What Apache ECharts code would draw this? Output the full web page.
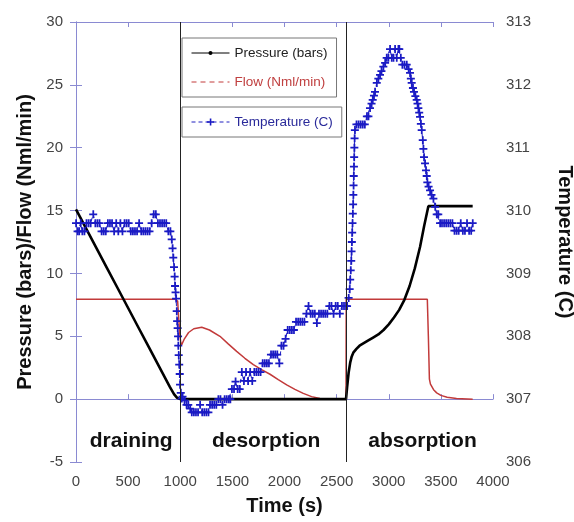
<!DOCTYPE html>
<html>
<head>
<meta charset="utf-8">
<script src="https://cdn.jsdelivr.net/npm/echarts@6/dist/echarts.min.js"></script>
<style>
html,body{margin:0;padding:0;background:#fff;}
#c{width:574px;height:522px;}
</style>
</head>
<body>
<div id="c"></div>
<script>
// ---- data ----
const pressureTime = [0,100,200,300,400,500,600,700,800,900,940,970,1000,2590,2600,2615,2630,2645,2660,2690,2720,2760,2800,2850,2900,2950,3000,3050,3100,3150,3200,3250,3300,3340,3380,3805];
const pressure     = [15.1,13.53,11.96,10.39,8.82,7.25,5.68,4.11,2.54,0.97,0.4,0.1,0,0,0.9,2.1,2.9,3.4,3.7,4.0,4.25,4.45,4.65,4.9,5.15,5.5,5.95,6.5,7.1,7.9,9.0,10.4,12.1,13.8,15.35,15.35];

const flowTime = [0,950,975,985,995,1005,1014,1040,1080,1130,1206,1280,1381,1460,1541,1620,1701,1780,1861,1940,2021,2100,2180,2260,2340,2420,2590,2592,3370,3380,3390,3400,3430,3460,3500,3560,3650,3805];
const flow     = [7.95,7.95,7.8,6.5,5.2,4.5,4.34,4.8,5.3,5.6,5.72,5.5,5.0,4.4,3.8,3.25,2.74,2.35,1.98,1.55,1.14,0.78,0.46,0.2,0.05,0,0,7.95,7.95,5.0,1.6,1.2,0.75,0.5,0.3,0.15,0.05,0];

const tempTime = [0,15,30,45,60,80,100,120,140,165,185,205,225,245,265,285,305,325,345,365,385,405,425,445,465,485,505,525,545,565,585,605,625,645,665,685,705,725,745,765,785,805,825,845,865,885,905,918,926,933,940,946,950,955,960,966,970,975,979,981,985,990,995,998,1005,1014,
1022,1040,1060,1077,1095,1110,1130,1150,1170,1190,1210,1230,1250,1270,1285,1305,1325,1345,1365,1385,1405,1425,1445,1465,1480,1495,1515,1530,1550,1570,1590,1610,1630,1650,1670,1690,1710,1730,1750,1770,1790,1810,1830,1850,1870,1890,1910,1930,1950,1970,1990,2010,2030,2050,2070,2090,2110,2130,2150,2170,2190,2210,2230,2250,2270,2290,2310,2330,2350,2370,2390,2410,2430,2450,2470,2490,2510,2530,2550,2570,2590,
2600,2615,2625,2630,2635,2640,2643,2646,2649,2652,2655,2658,2660,2662,2664,2666,2668,2670,2672,2675,2690,2710,2730,2750,2770,2790,2805,2820,2835,2846,2858,2868,2885,2900,2916,2930,2948,2965,2980,2996,3012,3028,3045,3060,3076,3092,3101,3115,3130,3150,3172,3190,3204,3212,3220,3232,3242,3255,3268,3276,3284,3292,3300,3308,3316,3326,3332,3338,3348,3357,3364,3370,3382,3396,3410,3428,3445,3460,3475,3492,3510,3530,3550,3570,3590,3610,3630,3650,3670,3690,3710,3730,3750,3770,3790,3805];
const temperature = [309.8,309.67,309.67,309.8,309.67,309.67,309.8,309.8,309.8,309.94,309.8,309.8,309.8,309.67,309.67,309.67,309.8,309.8,309.8,309.67,309.8,309.67,309.8,309.67,309.8,309.8,309.8,309.67,309.67,309.67,309.67,309.8,309.67,309.67,309.67,309.67,309.67,309.8,309.94,309.94,309.8,309.8,309.8,309.8,309.8,309.67,309.67,309.54,309.4,309.25,309.1,308.95,308.8,308.7,308.6,308.4,308.24,308.13,308.0,307.85,307.7,307.55,307.4,307.23,307.1,307.01,
307.04,306.98,306.91,306.91,306.85,306.79,306.79,306.79,306.79,306.91,306.79,306.79,306.79,306.79,306.91,306.91,306.91,306.91,307.0,307.0,306.91,307.0,307.0,307.0,307.0,307.16,307.16,307.28,307.16,307.16,307.43,307.29,307.43,307.29,307.43,307.29,307.43,307.43,307.43,307.43,307.57,307.57,307.57,307.57,307.71,307.71,307.71,307.71,307.57,307.85,307.85,307.96,308.1,308.1,308.1,308.1,308.23,308.23,308.23,308.23,308.23,308.36,308.48,308.36,308.36,308.36,308.21,308.36,308.36,308.36,308.36,308.36,308.48,308.48,308.36,308.48,308.48,308.36,308.48,308.48,308.48,
308.48,308.61,308.75,308.9,309.05,309.2,309.35,309.5,309.65,309.8,309.95,310.1,310.25,310.4,310.55,310.7,310.85,311.0,311.15,311.28,311.37,311.37,311.37,311.37,311.37,311.5,311.5,311.63,311.7,311.76,311.83,311.89,312.03,312.1,312.16,312.22,312.29,312.35,312.43,312.43,312.57,312.43,312.43,312.57,312.43,312.57,312.57,312.43,312.32,312.32,312.32,312.25,312.19,312.1,312.03,311.95,311.89,311.82,311.76,311.7,311.63,311.56,311.49,311.38,311.28,311.12,310.98,310.85,310.75,310.64,310.55,310.45,310.38,310.32,310.25,310.19,310.06,309.94,309.94,309.8,309.8,309.8,309.8,309.8,309.8,309.8,309.68,309.68,309.68,309.8,309.68,309.68,309.8,309.68,309.68,309.8];

const phaseNames  = ['draining','desorption','absorption'];
const phaseBounds = [0,1000,2590,4000];
const leftTicks   = {min:-5, max:30, step:5};
const rightTicks  = {min:306, max:313, step:1};
const timeTicks   = {min:0, max:4000, step:500};

// ---- build ----
const zip = (a,b) => a.map((v,i)=>[v,b[i]]);
const axisColor = '#8a8ad2';
const font = 'Liberation Sans, Arial, sans-serif';
const plusPath = 'path://M4,0h2.2v3.9h3.8v2.2h-3.8v3.9h-2.2v-3.9h-4v-2.2h4z';
const plain = v => String(v);

const markAreaData = phaseNames.map((n,i)=>[{name:n, xAxis:phaseBounds[i]},{xAxis:phaseBounds[i+1]}]);
const markLineData = phaseBounds.slice(1,3).map(v=>({xAxis:v}));

const chart = echarts.init(document.getElementById('c'), null, {renderer:'canvas'});
chart.setOption({
  animation:false,
  backgroundColor:'#fff',
  textStyle:{fontFamily:font},
  grid:{left:76, right:81, top:22, bottom:60, containLabel:false, outerBoundsMode:'none'},
  legend:[
    {
      data:[
        {name:'Pressure (bars)', textStyle:{color:'#222'}, lineStyle:{width:1}},
        {name:'Flow (Nml/min)', textStyle:{color:'#c04040'}, lineStyle:{width:1, type:[5,4]}, itemStyle:{opacity:0}}
      ],
      orient:'vertical', left:182, top:38, padding:[8,9,8,9], itemGap:15,
      itemWidth:38, itemHeight:5, borderColor:'#777', borderWidth:1,
      textStyle:{fontSize:13.5, fontFamily:font}, selectedMode:false
    },
    {
      data:[{name:'Temperature (C)', textStyle:{color:'#2a2a9a'}, lineStyle:{width:1}}],
      orient:'vertical', left:182, top:107, padding:[8,9,8,9],
      itemWidth:38, itemHeight:9, borderColor:'#777', borderWidth:1,
      textStyle:{fontSize:13.5, fontFamily:font}, selectedMode:false
    }
  ],
  xAxis:[
    {
      type:'value', min:timeTicks.min, max:timeTicks.max, interval:timeTicks.step,
      name:'Time (s)', nameLocation:'middle', nameGap:34,
      nameTextStyle:{fontSize:20, fontWeight:'bold', color:'#111', fontFamily:font},
      axisLine:{show:true, lineStyle:{color:axisColor, width:1}},
      axisTick:{show:true, inside:true, length:5, lineStyle:{color:axisColor}},
      axisLabel:{fontSize:15, color:'#444', margin:12, fontFamily:font, formatter:plain},
      splitLine:{show:false}
    },
    {
      type:'value', position:'top', min:timeTicks.min, max:timeTicks.max, interval:timeTicks.step,
      axisLine:{show:true, lineStyle:{color:axisColor, width:1}},
      axisTick:{show:true, inside:true, length:5, lineStyle:{color:axisColor}},
      axisLabel:{show:false}, splitLine:{show:false}
    }
  ],
  yAxis:[
    {
      type:'value', min:leftTicks.min, max:leftTicks.max, interval:leftTicks.step,
      name:'Pressure (bars)/Flow (Nml/min)', nameLocation:'middle', nameGap:37,
      nameTextStyle:{fontSize:20, fontWeight:'bold', color:'#111', fontFamily:font},
      axisLine:{show:true, lineStyle:{color:axisColor, width:1}},
      axisTick:{show:true, inside:true, length:6, lineStyle:{color:axisColor}},
      axisLabel:{fontSize:15, color:'#444', margin:13, fontFamily:font, formatter:plain},
      splitLine:{show:false}
    },
    {
      type:'value', position:'right', min:rightTicks.min, max:rightTicks.max, interval:rightTicks.step,
      name:'Temperature (C)', nameLocation:'middle', nameGap:62, nameRotate:-90,
      nameTextStyle:{fontSize:20, fontWeight:'bold', color:'#111', fontFamily:font},
      axisLine:{show:true, lineStyle:{color:axisColor, width:1}},
      axisTick:{show:true, inside:true, length:6, lineStyle:{color:axisColor}},
      axisLabel:{fontSize:15, color:'#444', margin:13, fontFamily:font, formatter:plain},
      splitLine:{show:false}
    }
  ],
  series:[
    {
      name:'Pressure (bars)', type:'line', xAxisIndex:0, yAxisIndex:0,
      data:zip(pressureTime, pressure),
      symbol:'circle', symbolSize:4, showSymbol:false,
      lineStyle:{color:'#000', width:2.6}, itemStyle:{color:'#000'},
      z:3,
      markLine:{
        silent:true, symbol:'none', label:{show:false},
        lineStyle:{color:'#222', width:1, type:'solid'},
        data:markLineData
      },
      markArea:{
        silent:true, itemStyle:{color:'rgba(0,0,0,0)'},
        label:{show:true, position:'insideBottom', distance:10, offset:[3,0],
               fontSize:21, fontWeight:'bold', color:'#111', fontFamily:font},
        data:markAreaData
      }
    },
    {
      name:'Flow (Nml/min)', type:'line', xAxisIndex:0, yAxisIndex:0,
      data:zip(flowTime, flow),
      symbol:'none',
      lineStyle:{color:'#c23a3a', width:1.5}, itemStyle:{color:'#c23a3a'},
      z:2
    },
    {
      name:'Temperature (C)', type:'line', xAxisIndex:0, yAxisIndex:1,
      data:zip(tempTime, temperature),
      symbol:plusPath, symbolSize:8, showSymbol:true,
      lineStyle:{color:'#2020c0', width:1, type:[4,3]},
      itemStyle:{color:'#1a1ac4'},
      z:4
    }
  ]
});
</script>
</body>
</html>
